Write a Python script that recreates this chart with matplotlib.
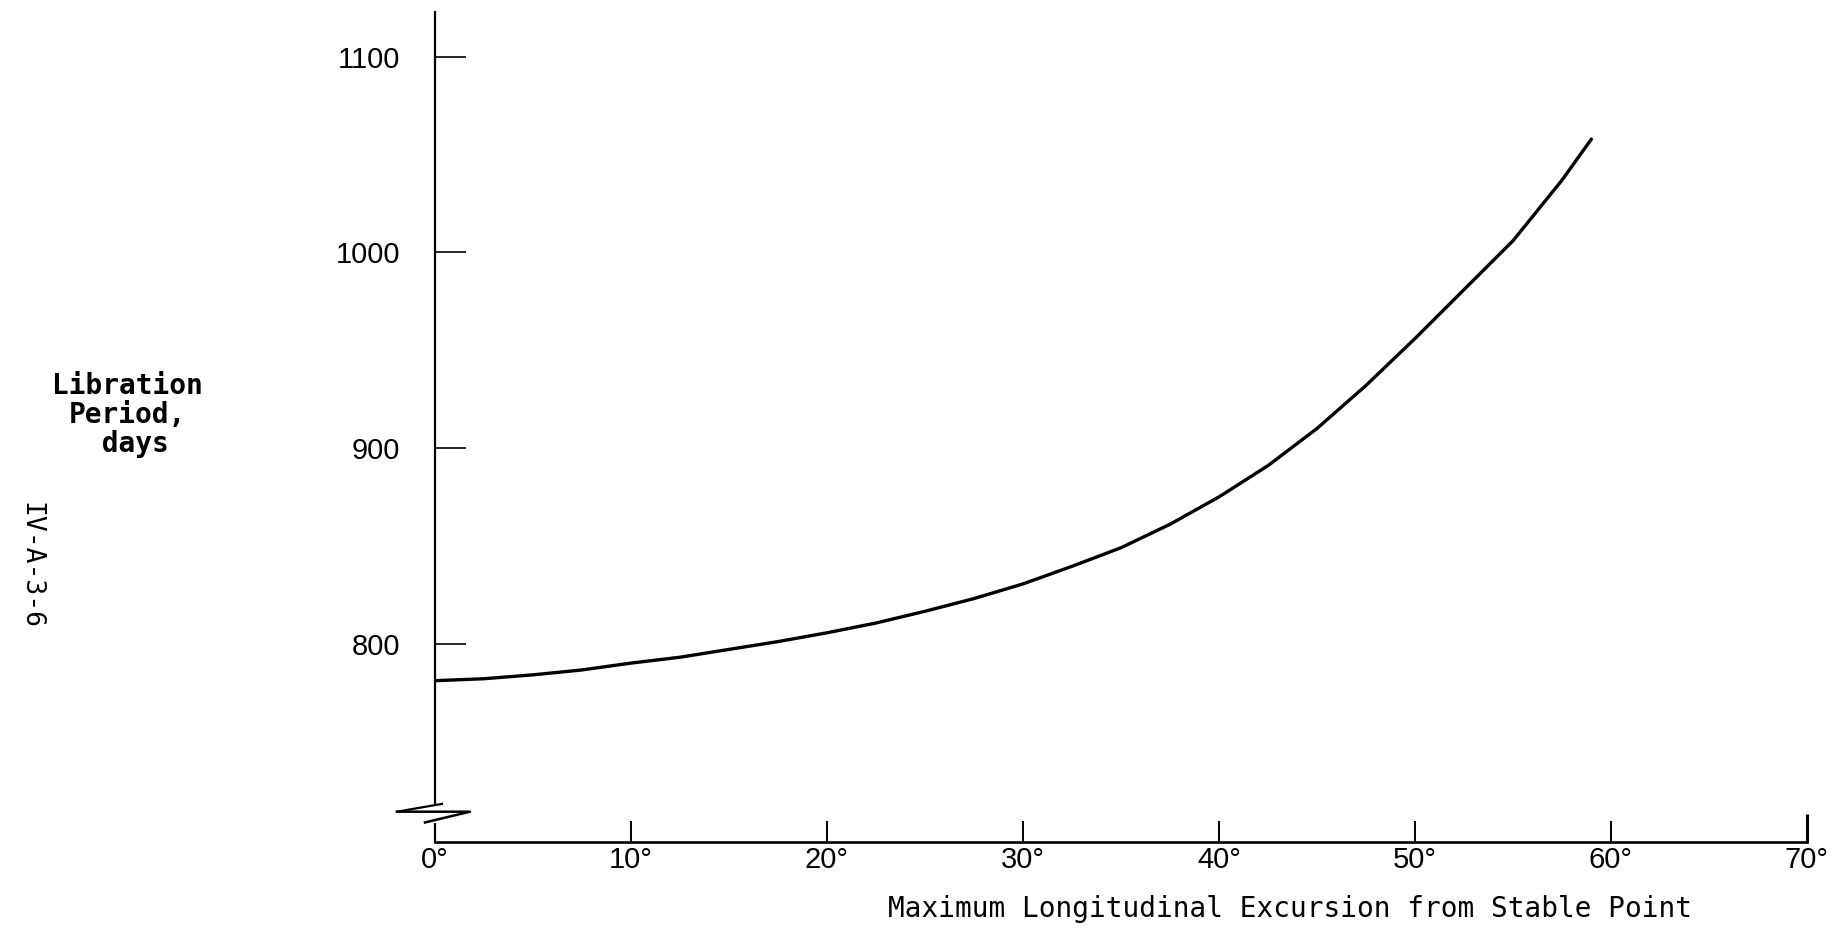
import matplotlib
matplotlib.use("Agg")
import matplotlib.pyplot as plt
from matplotlib import font_manager
import matplotlib.transforms as mtransforms

# values
excursion_deg = [0, 2.5, 5, 7.5, 10, 12.5, 15, 17.5, 20, 22.5, 25, 27.5, 30, 32.5, 35,
                 37.5, 40, 42.5, 45, 47.5, 50, 52.5, 55, 57.5, 59]
period_days = [781, 782, 784, 786.5, 790, 793, 797, 801, 805.5, 810.5, 816.5, 823, 830.5,
               839.5, 849, 861, 875, 891, 910, 932, 956, 981, 1006, 1037, 1058]
y_ticks = [800, 900, 1000, 1100]
x_ticks = [0, 10, 20, 30, 40, 50, 60, 70]
x_tick_labels = [f"{t}°" for t in x_ticks]

W, H = 1832, 941
fig = plt.figure(figsize=(W / 100, H / 100), dpi=100)

names = {f.name for f in font_manager.fontManager.ttflist}
num_font = "Liberation Sans Narrow" if "Liberation Sans Narrow" in names else "Liberation Sans"
mono = "DejaVu Sans Mono"

# axes box in pixel coords of the reference
x0, x1 = 435, 1807
y_top, y_bot = 12, 842
ax = fig.add_axes([x0 / W, 1 - y_bot / H, (x1 - x0) / W, (y_bot - y_top) / H])

ax.plot(excursion_deg, period_days, color="black", lw=2.4,
        solid_capstyle="round", solid_joinstyle="round")

ax.set_xlim(0, 70)
ax.set_ylim(698.5, 1123)

for s in ["top", "right"]:
    ax.spines[s].set_visible(False)
ax.spines["left"].set_linewidth(1.6)
ax.spines["bottom"].set_linewidth(1.9)

ax.set_yticks(y_ticks)
ax.set_yticklabels([str(t) for t in y_ticks], fontfamily=num_font, fontsize=21)
ax.set_xticks(x_ticks)
ax.set_xticklabels(x_tick_labels, fontfamily=num_font, fontsize=21)
ax.tick_params(axis="y", direction="in", length=22, width=1.2, pad=25)
ax.tick_params(axis="x", direction="in", length=15, width=1.4, pad=3)
ax.xaxis.get_major_ticks()[-1].tick1line.set_markersize(20)
ax.xaxis.get_major_ticks()[-1].tick1line.set_markeredgewidth(2.2)

# axis break symbol on the y axis, drawn in pixel offsets from the spine
tr = mtransforms.blended_transform_factory(ax.transAxes, ax.transData)
yb = 712
px = 1 / (x1 - x0)
ax.plot([0, 0], [yb - 3, yb + 5], color="white", lw=3, transform=tr, clip_on=False, zorder=4)
ax.plot([-38 * px, 35 * px, -10 * px], [yb + 2, yb + 2, yb - 3.5],
        color="black", lw=1.8, transform=tr, clip_on=False, zorder=5)
ax.plot([-38 * px, 7 * px], [yb + 2, yb + 6], color="black", lw=1.6,
        transform=tr, clip_on=False, zorder=5)

fig.text(1290 / W, 1 - 909 / H, "Maximum Longitudinal Excursion from Stable Point",
         fontfamily=mono, fontsize=20, ha="center", va="center")
fig.text(127 / W, 1 - 415 / H, "Libration\nPeriod,\n days", fontfamily=mono,
         fontsize=20, fontweight="bold", ha="center", va="center",
         multialignment="center", linespacing=1.05)
fig.text(30 / W, 1 - 565 / H, "IV-A-3-6", fontfamily=mono, fontsize=19,
         rotation=-90, ha="center", va="center")

fig.savefig("out.png", dpi=100)
